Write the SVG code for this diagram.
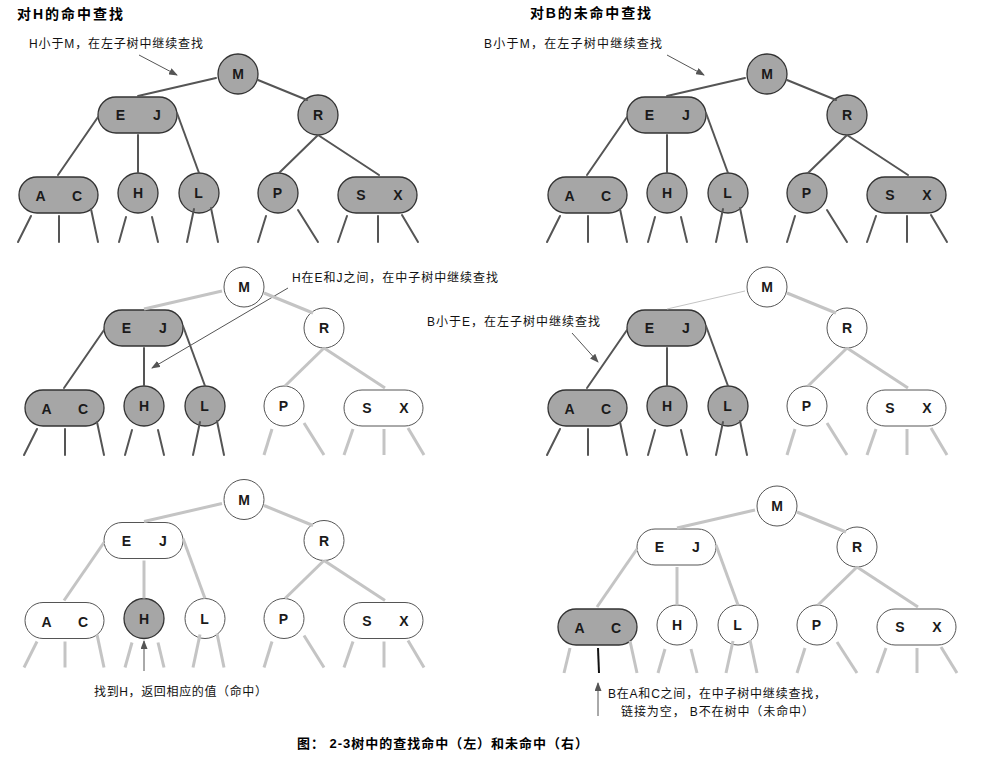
<svg xmlns="http://www.w3.org/2000/svg" width="991" height="757" viewBox="0 0 991 757">
<defs>
<style>
.dk{stroke:#555;stroke-width:2;fill:none;stroke-linecap:round}
.lt{stroke:#c4c4c4;stroke-width:3;fill:none}
.th{stroke:#c4c4c4;stroke-width:1;fill:none}
.bk{stroke:#111;stroke-width:2;fill:none}
.gn{fill:#a6a6a6;stroke:#333;stroke-width:1.3}
.wn{fill:#fff;stroke:#555;stroke-width:1}
.k{font-family:"Liberation Sans",Arial,sans-serif;font-weight:bold;font-size:14px;fill:#1a1a1a;text-anchor:middle}
.ann{font-family:"Liberation Sans","Noto Sans CJK SC",sans-serif;font-size:12px;fill:#111}
.ttl{font-family:"Liberation Sans","Noto Sans CJK SC",sans-serif;font-size:14px;font-weight:bold;fill:#000}
.cap{font-family:"Liberation Sans","Noto Sans CJK SC",sans-serif;font-size:13px;font-weight:bold;fill:#000}
.arr{stroke:#555;stroke-width:1;fill:none;marker-end:url(#ah)}
</style>
<marker id="ah" markerWidth="9" markerHeight="7" refX="8" refY="3.5" orient="auto" markerUnits="userSpaceOnUse">
<path d="M0,0 L9,3.5 L0,7 z" fill="#555"/>
</marker>
</defs>
<rect width="991" height="757" fill="#fff"/>

<!-- titles and captions -->
<text class="ttl" x="17" y="19" textLength="106" lengthAdjust="spacing">对H的命中查找</text>
<text class="ttl" x="530" y="18" textLength="121" lengthAdjust="spacing">对B的未命中查找</text>
<text class="ann" x="29" y="48" textLength="174" lengthAdjust="spacing">H小于M，在左子树中继续查找</text>
<text class="ann" x="484" y="48" textLength="178" lengthAdjust="spacing">B小于M，在左子树中继续查找</text>
<text class="ann" x="292" y="282" textLength="206" lengthAdjust="spacing">H在E和J之间，在中子树中继续查找</text>
<text class="ann" x="427" y="326" textLength="173" lengthAdjust="spacing">B小于E，在左子树中继续查找</text>
<text class="ann" x="94" y="696" textLength="173" lengthAdjust="spacing">找到H，返回相应的值（命中）</text>
<text class="ann" x="608" y="698" textLength="218" lengthAdjust="spacing">B在A和C之间，在中子树中继续查找，</text>
<text class="ann" x="621" y="716" textLength="193" lengthAdjust="spacing">链接为空， B不在树中（未命中）</text>
<text class="cap" x="297" y="748" textLength="291" lengthAdjust="spacing">图：  2-3树中的查找命中（左）和未命中（右）</text>

<!-- annotation arrows -->
<g id="annotation-arrows">
<line class="arr" x1="139" y1="55" x2="177" y2="75"/>
<line class="arr" x1="667" y1="55" x2="704" y2="75"/>
<line class="arr" x1="288" y1="288" x2="152" y2="368"/>
<line class="arr" x1="572" y1="333" x2="598" y2="362"/>
<line class="arr" x1="144" y1="671" x2="144" y2="641"/>
<line class="arr" x1="598" y1="716" x2="598" y2="683"/>
</g>

<!-- Panel 1 -->
<g id="panel1">
<g id="p1-M"><circle class="gn" cx="238" cy="74" r="20"/><text class="k" x="238" y="79">M</text></g>
<g id="p1-EJ"><rect class="gn" x="98" y="97" width="79" height="36" rx="18"/><text class="k" x="120.5" y="120">E</text><text class="k" x="157" y="120">J</text></g>
<g id="p1-R"><circle class="gn" cx="318" cy="115" r="20"/><text class="k" x="318" y="120">R</text></g>
<g id="p1-AC"><rect class="gn" x="19" y="177" width="79" height="36" rx="18"/><text class="k" x="40.5" y="201">A</text><text class="k" x="77" y="201">C</text></g>
<g id="p1-H"><circle class="gn" cx="138" cy="193" r="20"/><text class="k" x="138" y="198">H</text></g>
<g id="p1-L"><circle class="gn" cx="199" cy="193" r="20"/><text class="k" x="198.5" y="198">L</text></g>
<g id="p1-P"><circle class="gn" cx="278" cy="193" r="20"/><text class="k" x="277.5" y="198">P</text></g>
<g id="p1-SX"><rect class="gn" x="338" y="177" width="79" height="36" rx="18"/><text class="k" x="361" y="200">S</text><text class="k" x="398" y="200">X</text></g>
<g id="p1-edges">
<line class="dk" x1="216" y1="78" x2="138" y2="96"/>
<line class="dk" x1="258" y1="80" x2="307" y2="100"/>
<line class="dk" x1="98" y1="117" x2="58" y2="175"/>
<line class="dk" x1="138" y1="135" x2="138" y2="173"/>
<line class="dk" x1="177" y1="113" x2="199" y2="173"/>
<line class="dk" x1="318" y1="135" x2="279" y2="173"/>
<line class="dk" x1="318" y1="135" x2="379" y2="175"/>
<line class="dk" x1="31" y1="216" x2="18" y2="242"/>
<line class="dk" x1="59" y1="216" x2="59" y2="242"/>
<line class="dk" x1="91" y1="209" x2="98" y2="242"/>
<line class="dk" x1="126" y1="217" x2="119" y2="242"/>
<line class="dk" x1="152" y1="217" x2="158" y2="242"/>
<line class="dk" x1="194" y1="209" x2="187" y2="242"/>
<line class="dk" x1="211" y1="208" x2="218" y2="242"/>
<line class="dk" x1="266" y1="216" x2="258" y2="242"/>
<line class="dk" x1="298" y1="210" x2="318" y2="242"/>
<line class="dk" x1="347" y1="216" x2="338" y2="242"/>
<line class="dk" x1="378" y1="216" x2="378" y2="242"/>
<line class="dk" x1="402" y1="215" x2="418" y2="242"/>
</g>
</g>

<!-- Panel 2 -->
<g id="panel2" transform="translate(529,0)">
<g id="p2-M"><circle class="gn" cx="238" cy="74" r="20"/><text class="k" x="238" y="79">M</text></g>
<g id="p2-EJ"><rect class="gn" x="98" y="97" width="79" height="36" rx="18"/><text class="k" x="120.5" y="120">E</text><text class="k" x="157" y="120">J</text></g>
<g id="p2-R"><circle class="gn" cx="318" cy="115" r="20"/><text class="k" x="318" y="120">R</text></g>
<g id="p2-AC"><rect class="gn" x="19" y="177" width="79" height="36" rx="18"/><text class="k" x="40.5" y="201">A</text><text class="k" x="77" y="201">C</text></g>
<g id="p2-H"><circle class="gn" cx="138" cy="193" r="20"/><text class="k" x="138" y="198">H</text></g>
<g id="p2-L"><circle class="gn" cx="199" cy="193" r="20"/><text class="k" x="198.5" y="198">L</text></g>
<g id="p2-P"><circle class="gn" cx="278" cy="193" r="20"/><text class="k" x="277.5" y="198">P</text></g>
<g id="p2-SX"><rect class="gn" x="338" y="177" width="79" height="36" rx="18"/><text class="k" x="361" y="200">S</text><text class="k" x="398" y="200">X</text></g>
<g id="p2-edges">
<line class="dk" x1="216" y1="78" x2="138" y2="96"/>
<line class="dk" x1="258" y1="80" x2="307" y2="100"/>
<line class="dk" x1="98" y1="117" x2="58" y2="175"/>
<line class="dk" x1="138" y1="135" x2="138" y2="173"/>
<line class="dk" x1="177" y1="113" x2="199" y2="173"/>
<line class="dk" x1="318" y1="135" x2="279" y2="173"/>
<line class="dk" x1="318" y1="135" x2="379" y2="175"/>
<line class="dk" x1="31" y1="216" x2="18" y2="242"/>
<line class="dk" x1="59" y1="216" x2="59" y2="242"/>
<line class="dk" x1="91" y1="209" x2="98" y2="242"/>
<line class="dk" x1="126" y1="217" x2="119" y2="242"/>
<line class="dk" x1="152" y1="217" x2="158" y2="242"/>
<line class="dk" x1="194" y1="209" x2="187" y2="242"/>
<line class="dk" x1="211" y1="208" x2="218" y2="242"/>
<line class="dk" x1="266" y1="216" x2="258" y2="242"/>
<line class="dk" x1="298" y1="210" x2="318" y2="242"/>
<line class="dk" x1="347" y1="216" x2="338" y2="242"/>
<line class="dk" x1="378" y1="216" x2="378" y2="242"/>
<line class="dk" x1="402" y1="215" x2="418" y2="242"/>
</g>
</g>

<!-- Panel 3 -->
<g id="panel3" transform="translate(6,213)">
<g id="p3-M"><circle class="wn" cx="238" cy="74" r="20"/><text class="k" x="238" y="79">M</text></g>
<g id="p3-EJ"><rect class="gn" x="98" y="97" width="79" height="36" rx="18"/><text class="k" x="120.5" y="120">E</text><text class="k" x="157" y="120">J</text></g>
<g id="p3-R"><circle class="wn" cx="318" cy="115" r="20"/><text class="k" x="318" y="120">R</text></g>
<g id="p3-AC"><rect class="gn" x="19" y="177" width="79" height="36" rx="18"/><text class="k" x="40.5" y="201">A</text><text class="k" x="77" y="201">C</text></g>
<g id="p3-H"><circle class="gn" cx="138" cy="193" r="20"/><text class="k" x="138" y="198">H</text></g>
<g id="p3-L"><circle class="gn" cx="199" cy="193" r="20"/><text class="k" x="198.5" y="198">L</text></g>
<g id="p3-P"><circle class="wn" cx="278" cy="193" r="20"/><text class="k" x="277.5" y="198">P</text></g>
<g id="p3-SX"><rect class="wn" x="338" y="177" width="79" height="36" rx="18"/><text class="k" x="361" y="200">S</text><text class="k" x="398" y="200">X</text></g>
<g id="p3-edges">
<line class="lt" x1="216" y1="78" x2="138" y2="96"/>
<line class="lt" x1="258" y1="80" x2="307" y2="100"/>
<line class="dk" x1="98" y1="117" x2="58" y2="175"/>
<line class="dk" x1="138" y1="135" x2="138" y2="173"/>
<line class="dk" x1="177" y1="113" x2="199" y2="173"/>
<line class="lt" x1="318" y1="135" x2="279" y2="173"/>
<line class="lt" x1="318" y1="135" x2="379" y2="175"/>
<line class="dk" x1="31" y1="216" x2="18" y2="242"/>
<line class="dk" x1="59" y1="216" x2="59" y2="242"/>
<line class="dk" x1="91" y1="209" x2="98" y2="242"/>
<line class="dk" x1="126" y1="217" x2="119" y2="242"/>
<line class="dk" x1="152" y1="217" x2="158" y2="242"/>
<line class="dk" x1="194" y1="209" x2="187" y2="242"/>
<line class="dk" x1="211" y1="208" x2="218" y2="242"/>
<line class="lt" x1="266" y1="216" x2="258" y2="242"/>
<line class="lt" x1="298" y1="210" x2="318" y2="242"/>
<line class="lt" x1="347" y1="216" x2="338" y2="242"/>
<line class="lt" x1="378" y1="216" x2="378" y2="242"/>
<line class="lt" x1="402" y1="215" x2="418" y2="242"/>
</g>
</g>

<!-- Panel 4 -->
<g id="panel4" transform="translate(529,213)">
<g id="p4-M"><circle class="wn" cx="238" cy="74" r="20"/><text class="k" x="238" y="79">M</text></g>
<g id="p4-EJ"><rect class="gn" x="98" y="97" width="79" height="36" rx="18"/><text class="k" x="120.5" y="120">E</text><text class="k" x="157" y="120">J</text></g>
<g id="p4-R"><circle class="wn" cx="318" cy="115" r="20"/><text class="k" x="318" y="120">R</text></g>
<g id="p4-AC"><rect class="gn" x="19" y="177" width="79" height="36" rx="18"/><text class="k" x="40.5" y="201">A</text><text class="k" x="77" y="201">C</text></g>
<g id="p4-H"><circle class="gn" cx="138" cy="193" r="20"/><text class="k" x="138" y="198">H</text></g>
<g id="p4-L"><circle class="gn" cx="199" cy="193" r="20"/><text class="k" x="198.5" y="198">L</text></g>
<g id="p4-P"><circle class="wn" cx="278" cy="193" r="20"/><text class="k" x="277.5" y="198">P</text></g>
<g id="p4-SX"><rect class="wn" x="338" y="177" width="79" height="36" rx="18"/><text class="k" x="361" y="200">S</text><text class="k" x="398" y="200">X</text></g>
<g id="p4-edges">
<line class="th" x1="216" y1="78" x2="138" y2="96"/>
<line class="lt" x1="258" y1="80" x2="307" y2="100"/>
<line class="dk" x1="98" y1="117" x2="58" y2="175"/>
<line class="dk" x1="138" y1="135" x2="138" y2="173"/>
<line class="dk" x1="177" y1="113" x2="199" y2="173"/>
<line class="lt" x1="318" y1="135" x2="279" y2="173"/>
<line class="lt" x1="318" y1="135" x2="379" y2="175"/>
<line class="dk" x1="31" y1="216" x2="18" y2="242"/>
<line class="dk" x1="59" y1="216" x2="59" y2="242"/>
<line class="dk" x1="91" y1="209" x2="98" y2="242"/>
<line class="dk" x1="126" y1="217" x2="119" y2="242"/>
<line class="dk" x1="152" y1="217" x2="158" y2="242"/>
<line class="dk" x1="194" y1="209" x2="187" y2="242"/>
<line class="dk" x1="211" y1="208" x2="218" y2="242"/>
<line class="lt" x1="266" y1="216" x2="258" y2="242"/>
<line class="lt" x1="298" y1="210" x2="318" y2="242"/>
<line class="lt" x1="347" y1="216" x2="338" y2="242"/>
<line class="lt" x1="378" y1="216" x2="378" y2="242"/>
<line class="lt" x1="402" y1="215" x2="418" y2="242"/>
</g>
</g>

<!-- Panel 5 -->
<g id="panel5" transform="translate(6,425.5)">
<g id="p5-M"><circle class="wn" cx="238" cy="74" r="20"/><text class="k" x="238" y="79">M</text></g>
<g id="p5-EJ"><rect class="wn" x="98" y="97" width="79" height="36" rx="18"/><text class="k" x="120.5" y="120">E</text><text class="k" x="157" y="120">J</text></g>
<g id="p5-R"><circle class="wn" cx="318" cy="115" r="20"/><text class="k" x="318" y="120">R</text></g>
<g id="p5-AC"><rect class="wn" x="19" y="177" width="79" height="36" rx="18"/><text class="k" x="40.5" y="201">A</text><text class="k" x="77" y="201">C</text></g>
<g id="p5-H"><circle class="gn" cx="138" cy="193" r="20"/><text class="k" x="138" y="198">H</text></g>
<g id="p5-L"><circle class="wn" cx="199" cy="193" r="20"/><text class="k" x="198.5" y="198">L</text></g>
<g id="p5-P"><circle class="wn" cx="278" cy="193" r="20"/><text class="k" x="277.5" y="198">P</text></g>
<g id="p5-SX"><rect class="wn" x="338" y="177" width="79" height="36" rx="18"/><text class="k" x="361" y="200">S</text><text class="k" x="398" y="200">X</text></g>
<g id="p5-edges">
<line class="lt" x1="216" y1="78" x2="138" y2="96"/>
<line class="lt" x1="258" y1="80" x2="307" y2="100"/>
<line class="lt" x1="98" y1="117" x2="58" y2="175"/>
<line class="lt" x1="138" y1="135" x2="138" y2="173"/>
<line class="lt" x1="177" y1="113" x2="199" y2="173"/>
<line class="lt" x1="318" y1="135" x2="279" y2="173"/>
<line class="lt" x1="318" y1="135" x2="379" y2="175"/>
<line class="lt" x1="31" y1="216" x2="18" y2="242"/>
<line class="lt" x1="59" y1="216" x2="59" y2="242"/>
<line class="lt" x1="91" y1="209" x2="98" y2="242"/>
<line class="lt" x1="126" y1="217" x2="119" y2="242"/>
<line class="lt" x1="152" y1="217" x2="158" y2="242"/>
<line class="lt" x1="194" y1="209" x2="187" y2="242"/>
<line class="lt" x1="211" y1="208" x2="218" y2="242"/>
<line class="lt" x1="266" y1="216" x2="258" y2="242"/>
<line class="lt" x1="298" y1="210" x2="318" y2="242"/>
<line class="lt" x1="347" y1="216" x2="338" y2="242"/>
<line class="lt" x1="378" y1="216" x2="378" y2="242"/>
<line class="lt" x1="402" y1="215" x2="418" y2="242"/>
</g>
</g>

<!-- Panel 6 -->
<g id="panel6" transform="translate(539,432)">
<g id="p6-M"><circle class="wn" cx="238" cy="74" r="20"/><text class="k" x="238" y="79">M</text></g>
<g id="p6-EJ"><rect class="wn" x="98" y="97" width="79" height="36" rx="18"/><text class="k" x="120.5" y="120">E</text><text class="k" x="157" y="120">J</text></g>
<g id="p6-R"><circle class="wn" cx="318" cy="115" r="20"/><text class="k" x="318" y="120">R</text></g>
<g id="p6-AC"><rect class="gn" x="19" y="177" width="79" height="36" rx="18"/><text class="k" x="40.5" y="201">A</text><text class="k" x="77" y="201">C</text></g>
<g id="p6-H"><circle class="wn" cx="138" cy="193" r="20"/><text class="k" x="138" y="198">H</text></g>
<g id="p6-L"><circle class="wn" cx="199" cy="193" r="20"/><text class="k" x="198.5" y="198">L</text></g>
<g id="p6-P"><circle class="wn" cx="278" cy="193" r="20"/><text class="k" x="277.5" y="198">P</text></g>
<g id="p6-SX"><rect class="wn" x="338" y="177" width="79" height="36" rx="18"/><text class="k" x="361" y="200">S</text><text class="k" x="398" y="200">X</text></g>
<g id="p6-edges">
<line class="lt" x1="216" y1="78" x2="138" y2="96"/>
<line class="lt" x1="258" y1="80" x2="307" y2="100"/>
<line class="lt" x1="98" y1="117" x2="58" y2="175"/>
<line class="lt" x1="138" y1="135" x2="138" y2="173"/>
<line class="lt" x1="177" y1="113" x2="199" y2="173"/>
<line class="lt" x1="318" y1="135" x2="279" y2="173"/>
<line class="lt" x1="318" y1="135" x2="379" y2="175"/>
<line class="lt" x1="31" y1="216" x2="25" y2="241"/>
<line class="bk" x1="59" y1="216" x2="60" y2="241"/>
<line class="lt" x1="91" y1="209" x2="98" y2="241"/>
<line class="lt" x1="126" y1="217" x2="119" y2="241"/>
<line class="lt" x1="152" y1="217" x2="158" y2="241"/>
<line class="lt" x1="194" y1="209" x2="187" y2="241"/>
<line class="lt" x1="211" y1="208" x2="218" y2="241"/>
<line class="lt" x1="266" y1="216" x2="258" y2="241"/>
<line class="lt" x1="298" y1="210" x2="318" y2="241"/>
<line class="lt" x1="347" y1="216" x2="338" y2="241"/>
<line class="lt" x1="378" y1="216" x2="378" y2="241"/>
<line class="lt" x1="402" y1="215" x2="418" y2="241"/>
</g>
</g>
</svg>
